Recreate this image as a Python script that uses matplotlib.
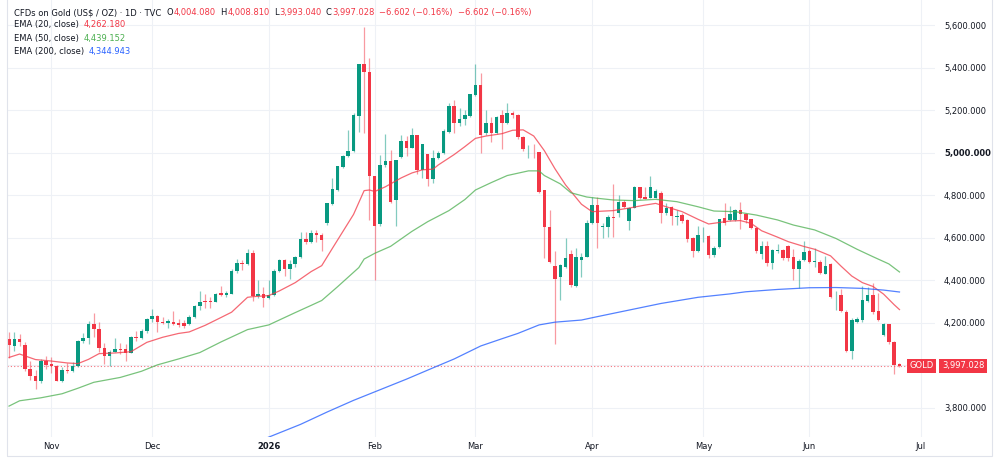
import numpy as np
import matplotlib.pyplot as plt
import matplotlib.transforms as mtransforms
from matplotlib.patches import Rectangle


W, H = 1000, 463

# daily OHLC, oldest first (one bar per trading day)
opens = [
    4122, 4092, 4124, 4095, 3981, 3950, 3926, 4022, 4005, 3998,
    3928, 3978, 3975, 3998, 4114, 4127, 4194, 4169, 4083, 4044,
    4064, 4075, 4075, 4059, 4135, 4127, 4161, 4218, 4232, 4205,
    4200, 4205, 4199, 4200, 4195, 4229, 4279, 4302, 4302, 4299,
    4339, 4332, 4335, 4444, 4483, 4477, 4530, 4326, 4335, 4315,
    4331, 4444, 4495, 4453, 4475, 4508, 4594, 4582, 4624, 4613,
    4668, 4759, 4825, 4935, 4985, 5009, 5175, 5416, 5382, 4892,
    4665, 4943, 4963, 4778, 4979, 5056, 5024, 5082, 4919, 4993,
    4875, 4974, 4998, 5100, 5222, 5139, 5159, 5175, 5272, 5318,
    5092, 5139, 5092, 5176, 5139, 5186, 5176, 5076, 5002, 5005,
    5002, 4825, 4652, 4467, 4414, 4464, 4524, 4375, 4496, 4511,
    4671, 4754, 4650, 4652, 4700, 4715, 4767, 4679, 4742, 4841,
    4790, 4789, 4789, 4812, 4718, 4743, 4700, 4706, 4684, 4597,
    4539, 4611, 4610, 4519, 4555, 4691, 4684, 4684, 4731, 4712,
    4687, 4648, 4522, 4563, 4480, 4537, 4542, 4563, 4508, 4451,
    4495, 4538, 4486, 4488, 4430, 4475, 4329, 4331, 4252, 4067,
    4206, 4213, 4304, 4331, 4255, 4142, 4193, 4111, 4004.08]
highs = [
    4158, 4155, 4146, 4111, 4020, 3978, 4028, 4044, 4038, 4001,
    3993, 4012, 4017, 4119, 4150, 4210, 4244, 4205, 4106, 4072,
    4130, 4103, 4099, 4137, 4161, 4169, 4221, 4263, 4237, 4229,
    4216, 4255, 4216, 4212, 4237, 4284, 4351, 4334, 4320, 4342,
    4373, 4351, 4452, 4499, 4495, 4546, 4542, 4401, 4370, 4401,
    4452, 4499, 4499, 4495, 4514, 4629, 4629, 4637, 4637, 4621,
    4765, 4880, 4939, 4990, 5107, 5189, 5416, 5594, 5448, 4892,
    4990, 5087, 5013, 4966, 5084, 5079, 5115, 5082, 5040, 4993,
    5013, 5009, 5110, 5233, 5248, 5212, 5201, 5275, 5416, 5377,
    5201, 5170, 5175, 5201, 5236, 5195, 5181, 5080, 5037, 5040,
    5005, 4825, 4731, 4538, 4475, 4598, 4543, 4550, 4527, 4684,
    4794, 4794, 4668, 4707, 4853, 4801, 4778, 4747, 4844, 4841,
    4841, 4891, 4828, 4820, 4762, 4750, 4731, 4715, 4690, 4605,
    4654, 4651, 4615, 4560, 4690, 4765, 4750, 4735, 4770, 4715,
    4690, 4650, 4585, 4585, 4545, 4570, 4548, 4567, 4545, 4500,
    4585, 4545, 4550, 4496, 4514, 4480, 4350, 4360, 4258, 4222,
    4228, 4373, 4370, 4388, 4340, 4200, 4195, 4114, 4008.81]
lows = [
    4033, 4067, 4091, 3973, 3931, 3888, 3915, 3981, 3962, 3926,
    3923, 3962, 3970, 3993, 4103, 4099, 4135, 4064, 4004, 3998,
    4061, 4053, 4022, 4057, 4116, 4124, 4154, 4205, 4158, 4194,
    4174, 4190, 4182, 4175, 4190, 4221, 4260, 4268, 4270, 4296,
    4326, 4323, 4335, 4433, 4448, 4472, 4302, 4318, 4273, 4312,
    4326, 4441, 4422, 4406, 4464, 4503, 4571, 4577, 4582, 4538,
    4660, 4754, 4820, 4930, 4982, 5005, 5100, 5092, 4684, 4401,
    4657, 4935, 4762, 4657, 4974, 4985, 5021, 4900, 4880, 4844,
    4856, 4969, 4993, 5095, 5092, 5126, 5131, 5170, 5268, 4998,
    5084, 5050, 5088, 5018, 5134, 5165, 5065, 5010, 4974, 4974,
    4810, 4503, 4480, 4100, 4307, 4456, 4370, 4370, 4417, 4508,
    4665, 4550, 4597, 4605, 4605, 4696, 4739, 4637, 4739, 4781,
    4781, 4785, 4785, 4668, 4707, 4660, 4660, 4668, 4582, 4511,
    4535, 4580, 4506, 4510, 4550, 4660, 4680, 4680, 4640, 4670,
    4640, 4530, 4500, 4468, 4455, 4530, 4495, 4490, 4400, 4366,
    4490, 4480, 4464, 4428, 4428, 4317, 4262, 4250, 4064, 4030,
    4197, 4206, 4300, 4240, 4208, 4138, 4100, 3960, 3993.04]
closes = [
    4095, 4124, 4108, 3981, 3950, 3926, 4022, 4001, 3998, 3928,
    3978, 3971, 3998, 4114, 4127, 4194, 4169, 4080, 4044, 4064,
    4075, 4070, 4059, 4135, 4127, 4161, 4218, 4232, 4202, 4200,
    4208, 4194, 4189, 4187, 4229, 4279, 4296, 4296, 4296, 4335,
    4332, 4339, 4444, 4483, 4475, 4530, 4326, 4335, 4315, 4331,
    4444, 4495, 4453, 4475, 4508, 4594, 4582, 4621, 4613, 4590,
    4762, 4830, 4939, 4985, 5009, 5178, 5416, 5379, 4892, 4657,
    4943, 4961, 4770, 4966, 5056, 5021, 5082, 4919, 5040, 4877,
    4977, 4998, 5104, 5222, 5139, 5159, 5178, 5275, 5318, 5084,
    5139, 5092, 5168, 5139, 5186, 5176, 5073, 5016, 5005, 5002,
    4814, 4652, 4488, 4405, 4472, 4503, 4378, 4511, 4511, 4671,
    4754, 4671, 4654, 4699, 4695, 4767, 4743, 4742, 4841, 4789,
    4784, 4837, 4822, 4715, 4742, 4702, 4704, 4679, 4593, 4539,
    4613, 4615, 4519, 4553, 4688, 4668, 4712, 4731, 4712, 4684,
    4648, 4538, 4563, 4480, 4542, 4540, 4503, 4503, 4451, 4492,
    4535, 4488, 4490, 4433, 4469, 4323, 4333, 4257, 4067, 4213,
    4216, 4307, 4331, 4249, 4213, 4194, 4108, 4003.63, 3997.028]

# moving averages at some bars
ema20_bars = [0, 2, 5, 8, 11, 13, 15, 17, 20, 23, 26, 29, 32, 34, 37, 40, 42, 45, 46, 49,
              51, 54, 57, 59, 61, 65, 67, 68, 69, 71, 74, 76, 78, 80, 81, 84, 86, 88, 90, 93,
              95, 97, 99, 101, 103, 105, 108, 110, 114, 117, 120, 122, 124, 127, 130, 132, 134, 136, 138, 140,
              142, 145, 147, 150, 152, 155, 157, 159, 161, 163, 165, 167, 168]
ema20_vals = [4037, 4053, 4027, 4020, 4011, 4008, 4028, 4055, 4058, 4064, 4108, 4132, 4150, 4157, 4188, 4225, 4250, 4320, 4323, 4328,
              4350, 4389, 4441, 4469, 4550, 4710, 4822, 4825, 4818, 4840, 4882, 4905, 4920, 4923, 4943, 4992, 5029, 5068, 5079, 5090,
              5106, 5108, 5079, 5010, 4925, 4849, 4758, 4723, 4728, 4740, 4754, 4762, 4746, 4723, 4687, 4665, 4672, 4679, 4681, 4668,
              4633, 4603, 4582, 4559, 4546, 4515, 4466, 4420, 4389, 4371, 4335, 4285, 4262.18]
ema50_bars = [0, 2, 6, 10, 13, 16, 21, 25, 28, 32, 36, 40, 45, 49, 54, 57, 59, 62, 66, 67,
              69, 72, 76, 79, 83, 86, 88, 91, 94, 98, 100, 101, 104, 106, 109, 111, 114, 118, 122, 126,
              130, 133, 137, 141, 145, 148, 152, 156, 160, 163, 166, 168]
ema50_vals = [3808, 3833, 3847, 3866, 3892, 3920, 3943, 3972, 4002, 4030, 4060, 4110, 4168, 4190, 4248, 4282, 4305, 4370, 4460, 4500,
              4527, 4560, 4630, 4676, 4728, 4780, 4825, 4860, 4893, 4915, 4915, 4893, 4854, 4812, 4792, 4786, 4778, 4775, 4781, 4770,
              4746, 4726, 4723, 4707, 4684, 4660, 4637, 4597, 4546, 4511, 4477, 4439.152]
ema200_bars = [45, 49, 55, 60, 65, 70, 75, 80, 84, 89, 93, 96, 100, 103, 108, 111, 117, 123, 130, 136,
               139, 145, 151, 156, 161, 165, 168]
ema200_vals = [3618, 3662, 3722, 3780, 3835, 3885, 3935, 3988, 4030, 4091, 4125, 4150, 4190, 4203, 4213, 4229, 4260, 4291, 4320, 4336,
               4346, 4357, 4365, 4366, 4362, 4354, 4344.943]

month_bars = [8, 27, 49, 69, 88, 110, 131, 151, 172]
month_labels = ['Nov', 'Dec', '2026', 'Feb', 'Mar', 'Apr', 'May', 'Jun', 'Jul']
price_ticks = [3800, 4000, 4200, 4400, 4600, 4800, 5000, 5200, 5400, 5600]

UP = '#089981'
DOWN = '#F23645'
EMA50_C = '#4CAF50'
EMA200_C = '#2962FF'
DARK = '#131722'
FS = 6.0

plt.rcParams['font.family'] = 'DejaVu Sans'

fig = plt.figure(figsize=(W / 100, H / 100), dpi=100)
ax = fig.add_axes([7 / W, 26 / H, 928 / W, 437 / H])

o = np.array(opens)
h = np.array(highs)
l = np.array(lows)
c = np.array(closes)
bars = np.arange(len(c))
colors = np.where(c >= o, UP, DOWN)

ax.vlines(bars, l, h, colors=colors, lw=0.9, alpha=0.5, zorder=2)
ax.bar(bars, np.maximum(np.abs(c - o), 4), bottom=np.minimum(o, c), width=0.66,
       color=colors, linewidth=0, zorder=3)

ax.plot(ema20_bars, ema20_vals, color=DOWN, lw=0.9, alpha=0.75, zorder=4)
ax.plot(ema50_bars, ema50_vals, color=EMA50_C, lw=0.9, alpha=0.75, zorder=4)
ax.plot(ema200_bars, ema200_vals, color=EMA200_C, lw=0.9, alpha=0.8, zorder=4)

# last price line
ax.axhline(c[-1], color=DOWN, lw=0.8, ls=(0, (1, 2)), alpha=0.7, zorder=1)

ax.set_xlim(-0.377, 174.7)
ax.set_ylim(3662.6, 5719.1)
ax.set_xticks(month_bars, month_labels)
ylabels = ['' if p == 4000 else f'{p:,.3f}' for p in price_ticks]
ax.set_yticks(price_ticks, ylabels)
ax.yaxis.tick_right()
ax.tick_params(axis='both', length=0, labelsize=FS, colors=DARK)
ax.tick_params(axis='y', pad=6.5)
ax.tick_params(axis='x', pad=3.5)
ax.get_xticklabels()[2].set_fontweight('bold')
ax.get_yticklabels()[price_ticks.index(5000)].set_fontweight('bold')
ax.grid(color='#eef1f6', lw=0.8)
ax.set_axisbelow(True)
for s in ax.spines.values():
    s.set_visible(False)

# widget frame
fig.add_artist(Rectangle((7 / W, 7 / H), 985 / W, 1.0, transform=fig.transFigure,
                         fill=False, ec='#e0e3eb', lw=0.8))

# price scale labels
blend = mtransforms.blended_transform_factory(ax.transAxes, ax.transData)
ax.text(0.9855, c[-1], 'GOLD', transform=blend, ha='center', va='center', fontsize=FS,
        color='white', zorder=6, clip_on=False,
        bbox=dict(boxstyle='square,pad=0.3', fc=DOWN, ec='none'))
ax.text(1.0302, c[-1], f'{c[-1]:,.3f}', transform=blend, ha='center', va='center',
        fontsize=FS, color='white', zorder=6, clip_on=False,
        bbox=dict(boxstyle='square,pad=0.3', fc=DOWN, ec='none'))

# legend rows at the top left
renderer = fig.canvas.get_renderer()


def text_row(x, y, parts):
    for s, col, gap in parts:
        t = fig.text(x / W, 1 - y / H, s, color=col, fontsize=FS, ha='left', va='center')
        x += t.get_window_extent(renderer).width + gap


chg = c[-1] - c[-2]
pct = chg / c[-2] * 100
chg_txt = f'{chg:.3f} ({pct:.2f}%)'.replace('-', '\u2212')
text_row(14, 12.7, [('CFDs on Gold (US$ / OZ) \u00b7 1D \u00b7 TVC', DARK, 5.5),
                    ('O', DARK, 0.5), (f'{o[-1]:,.3f}', DOWN, 4.5),
                    ('H', DARK, 0.5), (f'{h[-1]:,.3f}', DOWN, 4.5),
                    ('L', DARK, 0.5), (f'{l[-1]:,.3f}', DOWN, 4.5),
                    ('C', DARK, 0.5), (f'{c[-1]:,.3f}', DOWN, 4.5),
                    (chg_txt, DOWN, 5), (chg_txt, DOWN, 0)])
text_row(14, 25.0, [('EMA (20, close)', DARK, 4.5), (f'{ema20_vals[-1]:,.3f}', DOWN, 0)])
text_row(14, 38.3, [('EMA (50, close)', DARK, 4.5), (f'{ema50_vals[-1]:,.3f}', EMA50_C, 0)])
text_row(14, 51.7, [('EMA (200, close)', DARK, 4.5), (f'{ema200_vals[-1]:,.3f}', EMA200_C, 0)])

fig.savefig('out.png', dpi=100)
